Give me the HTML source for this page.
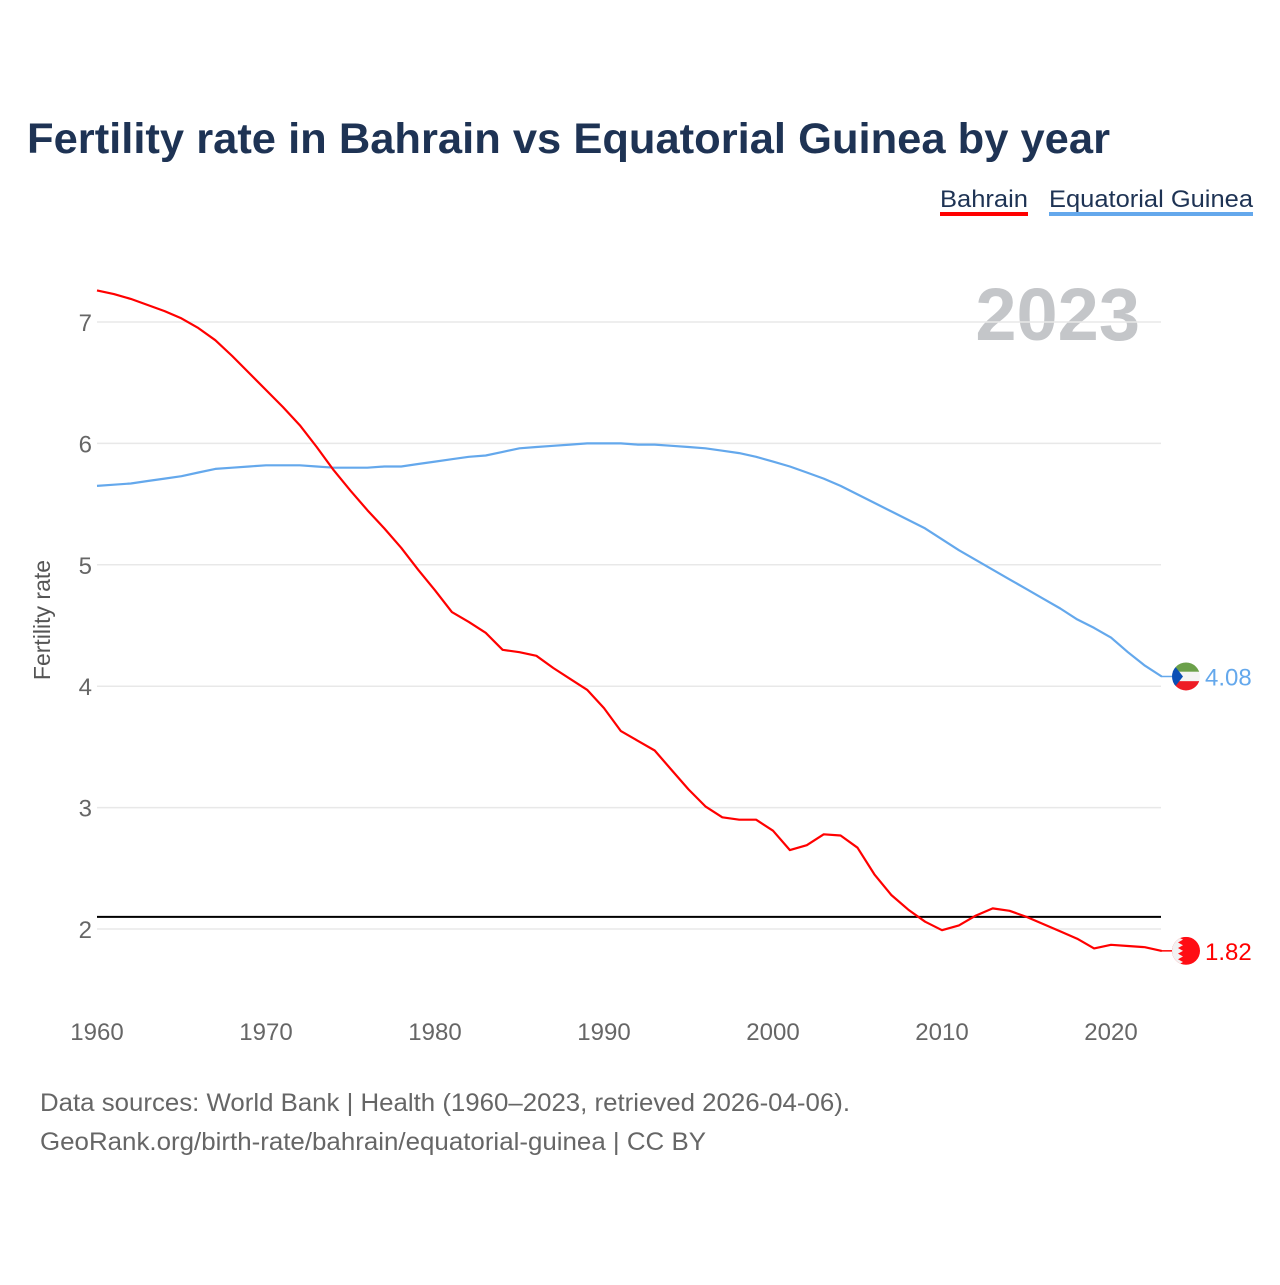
<!DOCTYPE html>
<html><head><meta charset="utf-8">
<style>
body{margin:0;background:#fff;font-family:"Liberation Sans",sans-serif;}
svg text{font-family:"Liberation Sans",sans-serif;}
</style></head>
<body>
<svg id="chart" width="1280" height="1280" viewBox="0 0 1280 1280" xmlns="http://www.w3.org/2000/svg">
<text x="27" y="153" font-size="43" font-weight="bold" fill="#1e3354" textLength="1083" lengthAdjust="spacingAndGlyphs">Fertility rate in Bahrain vs Equatorial Guinea by year</text>
<g>
<text x="940" y="207" font-size="24" fill="#1e3354" textLength="88" lengthAdjust="spacingAndGlyphs">Bahrain</text>
<rect x="940" y="212" width="88" height="4" fill="#ff0000"/>
<text x="1049" y="207" font-size="24" fill="#1e3354" textLength="204" lengthAdjust="spacingAndGlyphs">Equatorial Guinea</text>
<rect x="1049" y="212" width="204" height="4" fill="#64a8ec"/>
</g>
<text x="1140" y="340" font-size="74" font-weight="bold" fill="#c4c6c9" text-anchor="end">2023</text>
<g id="grid"></g>
<g id="yticks"></g>
<g id="xticks"></g>
<text transform="translate(50,620) rotate(-90)" font-size="23" fill="#555" text-anchor="middle">Fertility rate</text>
<g id="series"></g>
<g>
<text x="40" y="1111" font-size="25" fill="#666" textLength="810" lengthAdjust="spacingAndGlyphs">Data sources: World Bank | Health (1960–2023, retrieved 2026-04-06).</text>
<text x="40" y="1150" font-size="25" fill="#666" textLength="666" lengthAdjust="spacingAndGlyphs">GeoRank.org/birth-rate/bahrain/equatorial-guinea | CC BY</text>
</g>
</svg>
<script>
const years = [];
for (let y = 1960; y <= 2023; y++) years.push(y);
const bahrain = [7.26,7.23,7.19,7.14,7.09,7.03,6.95,6.85,6.72,6.58,6.44,6.30,6.15,5.97,5.78,5.61,5.45,5.30,5.14,4.96,4.79,4.61,4.53,4.44,4.30,4.28,4.25,4.15,4.06,3.97,3.82,3.63,3.55,3.47,3.31,3.15,3.01,2.92,2.90,2.90,2.81,2.65,2.69,2.78,2.77,2.67,2.45,2.28,2.16,2.06,1.99,2.03,2.11,2.17,2.15,2.10,2.04,1.98,1.92,1.84,1.87,1.86,1.85,1.82];
const eqGuinea = [5.65,5.66,5.67,5.69,5.71,5.73,5.76,5.79,5.80,5.81,5.82,5.82,5.82,5.81,5.80,5.80,5.80,5.81,5.81,5.83,5.85,5.87,5.89,5.90,5.93,5.96,5.97,5.98,5.99,6.00,6.00,6.00,5.99,5.99,5.98,5.97,5.96,5.94,5.92,5.89,5.85,5.81,5.76,5.71,5.65,5.58,5.51,5.44,5.37,5.30,5.21,5.12,5.04,4.96,4.88,4.80,4.72,4.64,4.55,4.48,4.40,4.28,4.17,4.08];
const yTickValues = [2,3,4,5,6,7];
const xTickValues = [1960,1970,1980,1990,2000,2010,2020];
const replacementRate = 2.1;

const NS = "http://www.w3.org/2000/svg";
const xS = v => 97 + (v - 1960) * (1014 / 60);
const yS = v => 929 - (v - 2) * 121.4;
function mk(tag, attrs, parent){const e=document.createElementNS(NS,tag);for(const k in attrs)e.setAttribute(k,attrs[k]);parent.appendChild(e);return e;}
const grid=document.getElementById('grid'), yt=document.getElementById('yticks'), xt=document.getElementById('xticks'), ser=document.getElementById('series');
yTickValues.forEach(v=>{
  const l=mk('line',{x1:97,x2:1161,y1:yS(v),y2:yS(v),stroke:'#e8e8e8','stroke-width':1.5},grid);
  
  
  const t=mk('text',{x:92,y:yS(v)+9,'font-size':24,fill:'#666','text-anchor':'end'},yt);
  t.textContent=v;
  
  
});
xTickValues.forEach(v=>{
  const t=mk('text',{x:xS(v),y:1040,'font-size':24,fill:'#666','text-anchor':'middle'},xt);
  t.textContent=v;
  
  
});
const ref=mk('line',{x1:97,x2:1161,y1:yS(replacementRate),y2:yS(replacementRate),stroke:'#000','stroke-width':2},ser);


function line(data,color,name){
  const d=data.map((v,i)=>(i?'L':'M')+xS(years[i]).toFixed(1)+' '+yS(v).toFixed(1)).join(' ');
  const p=mk('path',{d:d,fill:'none',stroke:color,'stroke-width':2.2,'stroke-linejoin':'round'},ser);
  
  
  const last=data[data.length-1], cy=yS(last);
  mk('line',{x1:1161,x2:1175,y1:cy,y2:cy,stroke:color,'stroke-width':1.5},ser);
  const t=mk('text',{x:1205,y:cy+9,'font-size':24,fill:color},ser);
  t.textContent=last.toFixed(2);
  
  
  return cy;
}
const cyE=line(eqGuinea,'#64a8ec','equatorial-guinea');
const cyB=line(bahrain,'#ff0000','bahrain');
const cx=1186,r=14;
const defs=mk('defs',{},document.getElementById('chart'));
const cpE=mk('clipPath',{id:'cE'},defs);mk('circle',{cx:cx,cy:cyE,r:r},cpE);
const cpB=mk('clipPath',{id:'cB'},defs);mk('circle',{cx:cx,cy:cyB,r:r},cpB);
const fe=mk('g',{'clip-path':'url(#cE)'},ser);


mk('rect',{x:cx-r,y:cyE-r,width:2*r,height:r*2/3,fill:'#6ba04a'},fe);
mk('rect',{x:cx-r,y:cyE-r/3,width:2*r,height:r*2/3,fill:'#f4f4f4'},fe);
mk('rect',{x:cx-r,y:cyE+r/3,width:2*r,height:r*2/3,fill:'#ee1c25'},fe);
mk('polygon',{points:`${cx-r},${cyE-r} ${cx-3},${cyE} ${cx-r},${cyE+r}`,fill:'#0b4fb5'},fe);
const fb=mk('g',{'clip-path':'url(#cB)'},ser);


mk('rect',{x:cx-r,y:cyB-r,width:2*r,height:2*r,fill:'#ff0d14'},fb);
let pts=`${cx-r},${cyB-r} ${cx-8},${cyB-r} `;
for(let i=0;i<5;i++){const y0=cyB-r+i*5.6;pts+=`${cx-3},${y0+2.8} ${cx-8},${y0+5.6} `;}
pts+=`${cx-r},${cyB+r}`;
mk('polygon',{points:pts,fill:'#f2f2f2'},fb);
</script>
</body></html>
